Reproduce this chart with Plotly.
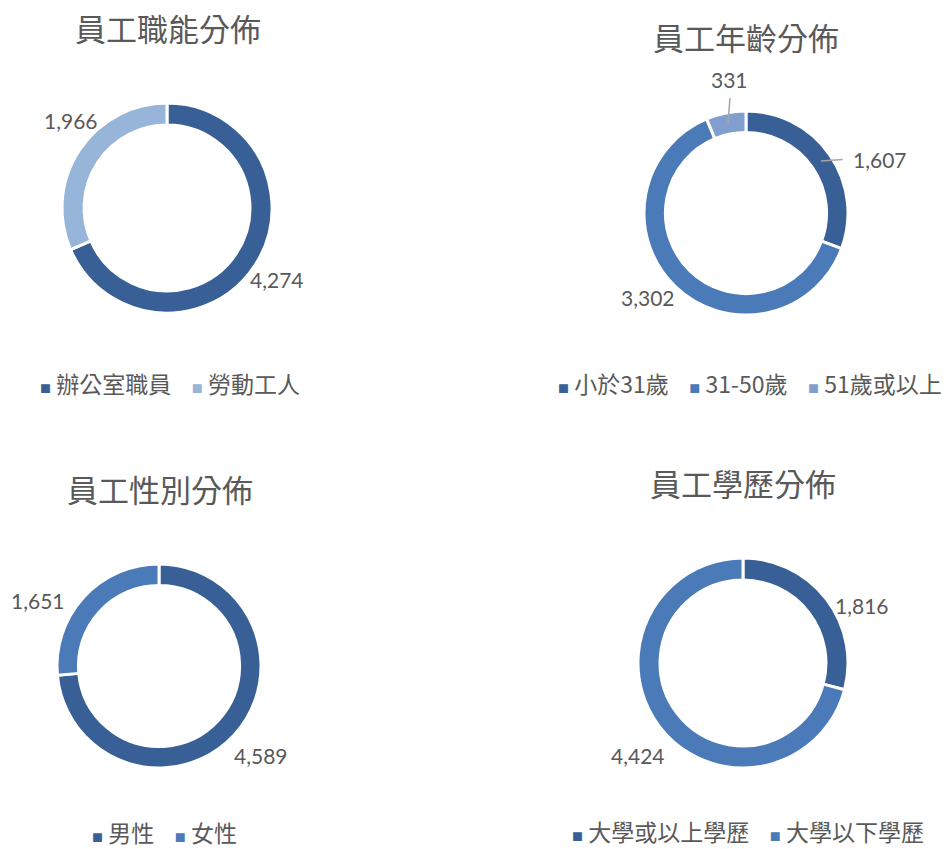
import math
import plotly.graph_objects as go

# ---- data ----
role_labels = ["辦公室職員", "勞動工人"]
role_values = [4274, 1966]
age_labels = ["小於31歲", "31-50歲", "51歲或以上"]
age_values = [1607, 3302, 331]
gender_labels = ["男性", "女性"]
gender_values = [4589, 1651]
edu_labels = ["大學或以上學歷", "大學以下學歷"]
edu_values = [1816, 4424]
titles = ["員工職能分佈", "員工年齡分佈", "員工性別分佈", "員工學歷分佈"]

# ---- styling / layout ----
W, H = 944, 849
TXT = "#595959"
FONT = "Noto Sans CJK TC"
NUMFONT = "Lato, Noto Sans CJK TC"
DARK, MID, LIGHT, PALE = "#386096", "#4A7AB7", "#809FCE", "#97B4D9"
HOLE = 0.79

# label placement tweaks (angle shift in degrees, gap beyond ring in px, leader line)
charts = [
    dict(labels=role_labels, values=role_values, colors=[DARK, PALE],
         cx=167, cy=208, r=105, title_x=168, title_y=27, leg_x=170, leg_y=383,
         lab=[(0, 26, False), (9, 25, False)]),
    dict(labels=age_labels, values=age_values, colors=[DARK, MID, LIGHT],
         cx=746, cy=213, r=102, title_x=746, title_y=37, leg_x=750, leg_y=383,
         lab=[(13, 42, True), (5.5, 27, False), (4.5, 32, True)]),
    dict(labels=gender_labels, values=gender_values, colors=[DARK, MID],
         cx=159, cy=666, r=102, title_x=160, title_y=488, leg_x=164, leg_y=832,
         lab=[(-1, 34, False), (-14, 36, False)]),
    dict(labels=edu_labels, values=edu_values, colors=[DARK, MID],
         cx=743, cy=663, r=105, title_x=743, title_y=482, leg_x=748, leg_y=831,
         lab=[(12, 27, False), (-3.5, 35, False)]),
]

fig = go.Figure()
annotations = []
shapes = []
for i, c in enumerate(charts):
    cx, cy, r = c["cx"], c["cy"], c["r"]
    fig.add_trace(go.Pie(
        labels=c["labels"], values=c["values"],
        marker=dict(colors=c["colors"], line=dict(color="white", width=3)),
        hole=HOLE, sort=False, direction="clockwise", rotation=0,
        textinfo="none", hoverinfo="label+value", showlegend=False,
        domain=dict(x=[(cx - r) / W, (cx + r) / W], y=[1 - (cy + r) / H, 1 - (cy - r) / H]),
    ))
    total = sum(c["values"])
    cum = 0
    for v, (shift, gap, leader) in zip(c["values"], c["lab"]):
        mid = (cum + v / 2) / total * 2 * math.pi
        cum += v
        ang = mid + math.radians(shift)
        d = r + gap
        px = cx + d * math.sin(ang)
        py = cy - d * math.cos(ang)
        annotations.append(dict(
            x=px / W, y=1 - py / H, xref="paper", yref="paper",
            text=f"{v:,}", showarrow=False, xanchor="center", yanchor="middle",
            font=dict(family=NUMFONT, size=21, color=TXT)))
        if leader:
            rm = r * (1 + HOLE) / 2
            sx = cx + rm * math.sin(mid)
            sy = cy - rm * math.cos(mid)
            dx, dy = sx - px, sy - py
            if abs(dx) > abs(dy):
                ex, ey = px + math.copysign(37, dx), py
            else:
                ex, ey = px, py + math.copysign(18, dy)
            shapes.append(dict(type="line", xref="paper", yref="paper",
                               x0=sx / W, y0=1 - sy / H, x1=ex / W, y1=1 - ey / H,
                               line=dict(color="#A6A6A6", width=1.5)))
    # title
    annotations.append(dict(
        x=c["title_x"] / W, y=1 - c["title_y"] / H, xref="paper", yref="paper",
        text=titles[i], showarrow=False, xanchor="center", yanchor="middle",
        font=dict(family=FONT, size=31, color=TXT)))
    # legend (as text row)
    parts = []
    for lab, col in zip(c["labels"], c["colors"]):
        parts.append(f"<span style='color:{col};font-size:11px'>■</span> {lab}")
    annotations.append(dict(
        x=c["leg_x"] / W, y=1 - c["leg_y"] / H, xref="paper", yref="paper",
        text="    ".join(parts), showarrow=False, xanchor="center", yanchor="middle",
        font=dict(family=FONT, size=23, color=TXT)))

fig.update_layout(
    width=W, height=H, margin=dict(l=0, r=0, t=0, b=0, autoexpand=False),
    paper_bgcolor="white", plot_bgcolor="white",
    annotations=annotations, shapes=shapes,
)
fig.write_html("out.html", config={"displayModeBar": False},
               post_script="document.body.style.margin='0';document.body.style.overflow='hidden';")
